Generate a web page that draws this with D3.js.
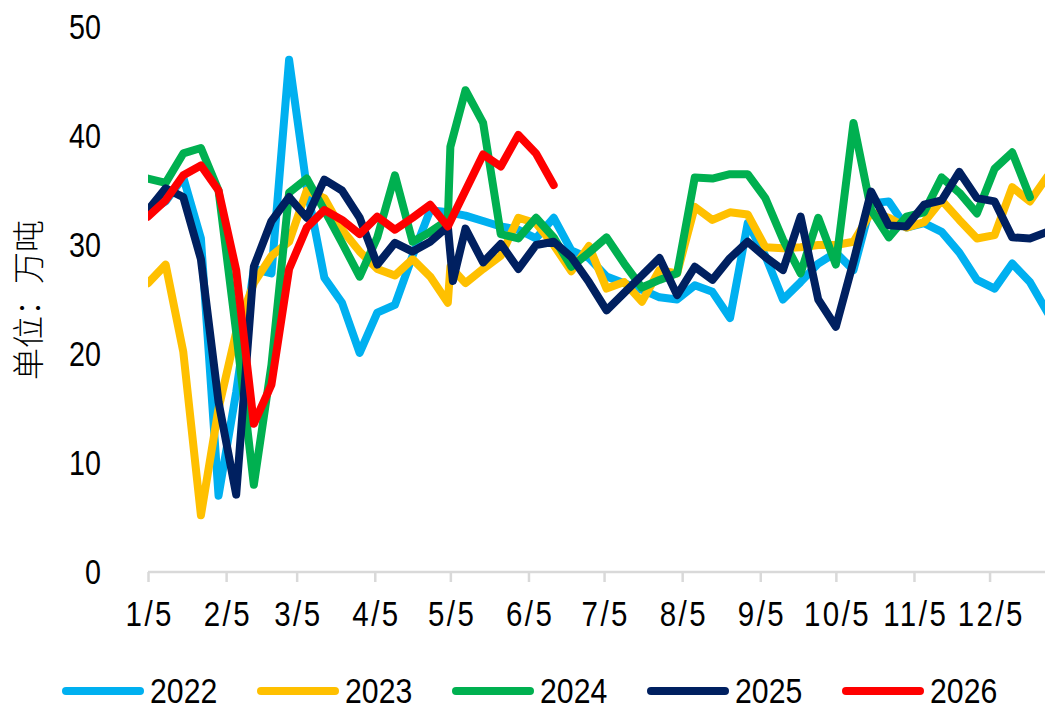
<!DOCTYPE html>
<html>
<head>
<meta charset="utf-8">
<script src="https://cdn.jsdelivr.net/npm/d3@7/dist/d3.min.js"></script>
<style>
  html, body { margin: 0; padding: 0; background: #fff; }
  svg { display: block; }
</style>
</head>
<body>
<svg id="chart" width="1045" height="711"></svg>
<script>
// ---------- data ----------
// weekly category dates (month/day), shared by all series
const weeks = ["1/5","1/12","1/19","1/26","2/2","2/9","2/16","2/23","3/2","3/9","3/16","3/23","3/30",
  "4/6","4/13","4/20","4/27","5/4","5/11","5/18","5/25","6/1","6/8","6/15","6/22","6/29",
  "7/6","7/13","7/20","7/27","8/3","8/10","8/17","8/24","8/31","9/7","9/14","9/21","9/28",
  "10/5","10/12","10/19","10/26","11/2","11/9","11/16","11/23","11/30","12/7","12/14","12/21","12/28"];

const tickLabels = ["1/5","2/5","3/5","4/5","5/5","6/5","7/5","8/5","9/5","10/5","11/5","12/5"];
const yTicks = [0, 10, 20, 30, 40, 50];
const seriesNames = ["2022","2023","2024","2025","2026"];
const seriesColors = ["#00B0F0","#FFC000","#00B050","#002060","#FF0000"];

const v2022 = [33,34,36.2,30.6,7.0,16.5,27.8,27.4,47,35.3,27,24.7,20.1,
  23.8,24.5,29,33.2,33,32.7,32.2,31.7,31.4,30.6,32.5,29.5,28.8,
  27.1,26.5,25.9,25.2,25,26.3,25.7,23.3,32,29,25,26.6,28.3,
  29.3,27.7,33.8,34,31.6,32,31.2,29.3,26.8,26,28.3,26.6,23.8];
const v2023 = [26.5,28.2,20.2,5.2,15,22,26.5,29,30.3,35,34.3,31.4,29.4,
  27.8,27.2,28.7,27.1,24.7,26.5,27.8,29,32.5,32,30,27.6,29.9,
  26,26.6,24.8,27.7,27.4,33.5,32.3,33,32.8,29.8,29.7,29.8,30,
  30,30.3,33,32.5,31.6,32.1,34.1,32.3,30.6,30.9,35.3,34,36.3];
const v2024 = [36.1,35.7,38.4,38.9,35,22,8,19,34.8,36.1,33.2,30.2,27.1,
  30.7,36.4,30.3,31.2,32.3,44.2,41.2,31,30.6,32.5,30.7,28,29.3,
  30.7,28.3,26.1,26.8,27.4,36.2,36.1,36.5,36.5,34.3,30.5,27.4,32.5,
  28.2,41.2,33.2,30.7,32.6,33,36.2,34.8,32.9,37,38.5,34.4,null];
const v2025 = [33.2,35.2,34.4,28.7,15.6,7.1,28,32.2,34.4,32.5,36,35,32.5,
  28.2,30.2,29.4,30.3,31.7,31.5,28.4,30.1,27.8,30,30.3,28.9,26.6,
  24,25.6,27.2,28.8,25.4,28,26.8,28.8,30.3,28.9,27.7,32.6,25,
  22.5,28.5,34.9,31.8,31.7,33.7,34.1,36.7,34.3,34,30.7,30.6,31.2];
const v2026 = [32.6,34.1,36.4,37.3,35,27.7,13.6,17.2,27.8,31.6,33.2,32.3,31,
  32.6,31.4,32.5,33.7,31.7,35,38.3,37.2,40.1,38.4,35.5];

// off-grid points (reported on a non-standard day around the May holiday)
const extra2022 = [];
const extra2023 = [["5/5", 28]];
const extra2024 = [["5/5", 39]];
const extra2025 = [["5/6", 26.7]];
const extra2026 = [];

const seriesValues = [v2022, v2023, v2024, v2025, v2026];
const seriesExtras = [extra2022, extra2023, extra2024, extra2025, extra2026];

// ---------- chart ----------
const svg = d3.select("#chart");
const BASE_YEAR = 2025;
const parseMD = s => { const [m, d] = s.split("/").map(Number); return new Date(BASE_YEAR, m - 1, d); };

const x = d3.scaleTime()
  .domain([new Date(BASE_YEAR, 0, 5), new Date(BASE_YEAR, 11, 27)])
  .range([148, 1045]);
const y = d3.scaleLinear().domain([0, 50]).range([572, 27]);

// Arial-metric font, horizontally condensed to imitate a narrow face
const numFont = "\"Liberation Sans\", Arial, sans-serif";
const NARROW = "scale(0.82,1)";

// clip
svg.append("defs").append("clipPath").attr("id", "plotClip")
  .append("rect").attr("x", 148).attr("y", 0).attr("width", 1045 - 148).attr("height", 600);

// x axis
const xAxis = d3.axisBottom(x)
  .tickValues(tickLabels.map(parseMD))
  .tickFormat((d, i) => tickLabels[i])
  .tickSizeInner(10).tickSizeOuter(0).tickPadding(18);
const gx = svg.append("g").attr("transform", `translate(0,${y(0)})`).call(xAxis);
gx.select(".domain").attr("stroke", "#D9D9D9").attr("stroke-width", 2.5)
  .attr("d", `M${x(parseMD("1/5"))},0H1045`);
gx.selectAll(".tick line").attr("stroke", "#D9D9D9").attr("stroke-width", 2.5);
gx.selectAll(".tick text")
  .style("font-family", numFont).style("font-size", "36px")
  .style("letter-spacing", "3px")
  .attr("transform", NARROW + " translate(1.5,0)")
  .attr("fill", "#000").attr("dy", "0.71em");

// y axis (labels only)
const yAxis = d3.axisLeft(y).tickValues(yTicks).tickSize(0).tickPadding(0);
const gy = svg.append("g").attr("transform", "translate(101,0)").call(yAxis);
gy.select(".domain").remove();
gy.selectAll(".tick text")
  .style("font-family", numFont).style("font-size", "35px")
  .attr("transform", NARROW)
  .attr("fill", "#000");

// y axis title
svg.append("text")
  .attr("transform", "translate(40,300) rotate(-90)")
  .attr("text-anchor", "middle")
  .style("font-family", "\"Noto Sans CJK SC\", sans-serif")
  .style("font-size", "32px").style("font-weight", "300")
  .attr("fill", "#000")
  .text("单位：万吨");

// series lines
const line = d3.line()
  .defined(d => d.v != null)
  .x(d => x(d.date))
  .y(d => y(d.v));

const plot = svg.append("g").attr("clip-path", "url(#plotClip)");
seriesValues.forEach((vals, si) => {
  const pts = vals.map((v, i) => ({ date: parseMD(weeks[i]), v }));
  seriesExtras[si].forEach(([md, v]) => pts.push({ date: parseMD(md), v }));
  pts.sort((a, b) => a.date - b.date);
  plot.append("path")
    .datum(pts)
    .attr("fill", "none")
    .attr("stroke", seriesColors[si])
    .attr("stroke-width", 8)
    .attr("stroke-linejoin", "round")
    .attr("stroke-linecap", "round")
    .attr("d", line);
});

// legend
const legend = svg.append("g").attr("transform", "translate(0,691)");
seriesNames.forEach((name, i) => {
  const g = legend.append("g").attr("transform", `translate(${62 + i * 195},0)`);
  g.append("line").attr("x1", 4).attr("x2", 78).attr("y1", 0).attr("y2", 0)
    .attr("stroke", seriesColors[i]).attr("stroke-width", 8).attr("stroke-linecap", "round");
  g.append("g").attr("transform", "translate(88,0)")
    .append("text").attr("x", 0).attr("y", 0).attr("dy", "0.33em")
    .attr("transform", "scale(0.84,1)")
    .style("font-family", numFont).style("font-size", "36px")
    .attr("fill", "#000").text(name);
});
</script>
</body>
</html>
